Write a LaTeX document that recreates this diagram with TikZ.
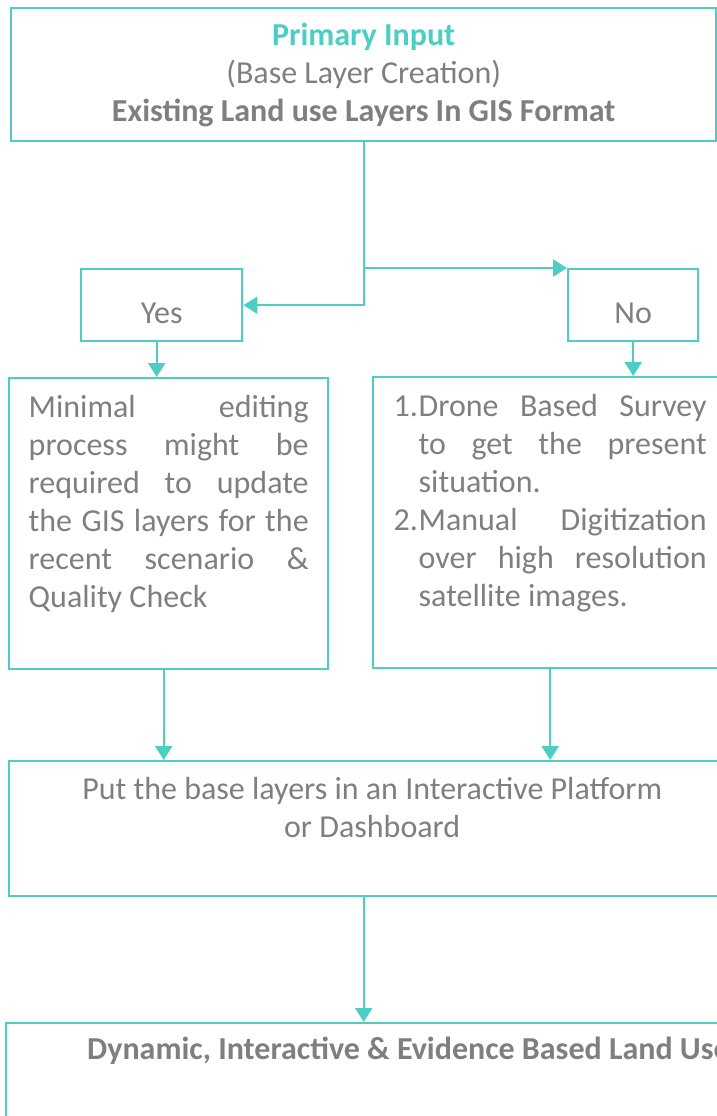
\documentclass[tikz,border=0pt]{standalone}
\usepackage{fontspec}
\setmainfont{Carlito}
\usetikzlibrary{calc,positioning,arrows.meta}
\definecolor{teal1}{HTML}{4ECDC4}
\definecolor{ink}{HTML}{7F7F7F}
\tikzset{box/.style={draw=teal1,line width=2.4pt,inner sep=0pt},
body/.style={text=ink,font=\fontsize{32}{38}\selectfont,inner sep=0pt},
answer/.style={box,body,text height=36pt,text depth=0pt,minimum height=72pt,anchor=north west},
flow/.style={draw=teal1,line width=2.4pt,-{Triangle[length=14pt,width=17pt]}}}

\begin{document}
\begin{tikzpicture}[x=1pt,y=-1pt]
\useasboundingbox (0,0) rectangle (717,1116);
\clip (0,0) rectangle (717,1116);
\node[box,body,anchor=north west,minimum width=705pt,minimum height=133pt,align=center] (input) at (10,7)
{\textcolor{teal1}{\bfseries Primary Input}\\(Base Layer Creation)\\\bfseries Existing Land use Layers In GIS Format};
\node[answer,minimum width=161pt] (yes) at (80,268) {Yes};
\node[answer,minimum width=130pt] (no) at (567,268) {No};
\node[box,anchor=north west,minimum width=319pt,minimum height=291pt] (edit) at (8,377) {};
\node[body,text width=280pt,align=justify,below=18pt of edit.north] (edittext)
{Minimal editing\linebreak process might be\linebreak required to update\linebreak the GIS layers for the\linebreak recent scenario \&\linebreak Quality Check};
\node[box,anchor=north west,minimum width=354pt,minimum height=291pt] (survey) at (372,376) {};
\node[body,text width=313pt,align=justify,below=18pt of survey.north] (surveytext)
{\leftskip=25pt
\noindent\hspace*{-25pt}\makebox[25pt][l]{1.}Drone Based Survey\linebreak to get the present\linebreak situation.\par
\noindent\hspace*{-25pt}\makebox[25pt][l]{2.}Manual Digitization\linebreak over high resolution\linebreak satellite images.\par};
\node[box,anchor=north west,minimum width=726pt,minimum height=135pt] (platform) at (8,760) {};
\node[body,align=center,below=17pt of platform.north] (platformtext)
{Put the base layers in an Interactive Platform\\or Dashboard};
\node[box,anchor=north west,minimum width=800pt,minimum height=200pt] (result) at (5,1022) {};
\node[body,font=\fontsize{32}{38}\selectfont\bfseries,anchor=west] (resulttext) at (87,1051)
{Dynamic, Interactive \& Evidence Based Land Use};

% branches
\draw[flow] (input.south) |- (no.north west);
\draw[flow] (input.south |- no.north west) |- (yes.east);
\draw[flow] ([xshift=-5pt]yes.south) -- ([xshift=-5pt]yes.south |- edit.north);
\draw[flow] (no.south) -- (no.south |- survey.north);
% merge
\draw[flow] ([xshift=-5pt]edit.south) -- ([xshift=-5pt]edit.south |- platform.north);
\draw[flow] (survey.south) -- (survey.south |- platform.north);
\draw[flow] (platform.south -| input.south) -- (input.south |- result.north);
\end{tikzpicture}
\end{document}
